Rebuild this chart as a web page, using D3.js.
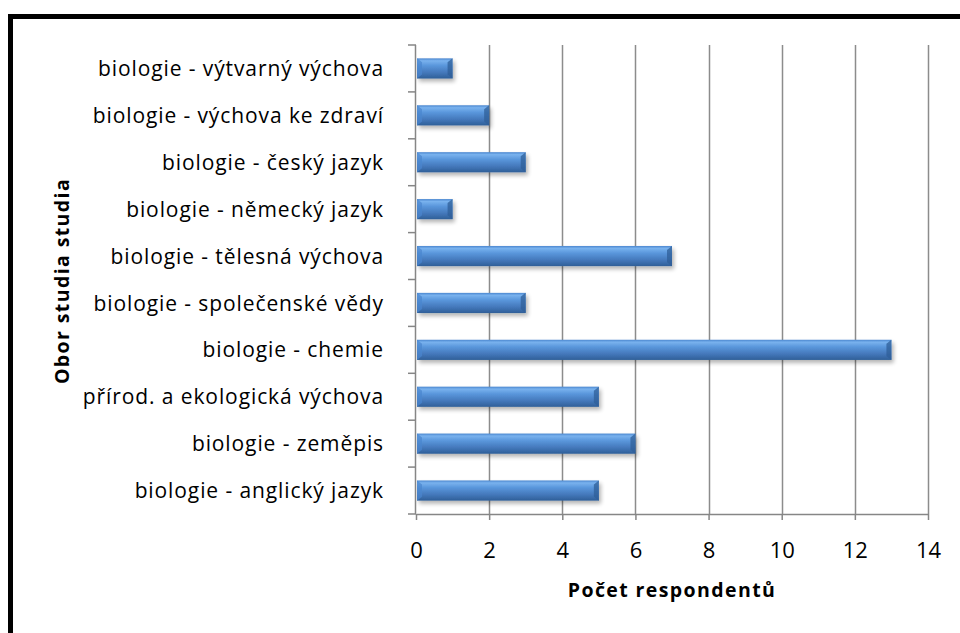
<!DOCTYPE html>
<html>
<head>
<meta charset="utf-8">
<script src="https://cdn.jsdelivr.net/npm/d3@7"></script>
<style>
  body { margin: 0; background: #fff; }
  svg { display: block; font-family: "Open Sans", "Noto Sans", sans-serif; }
</style>
</head>
<body>
<svg id="chart" width="960" height="633"></svg>
<script>
"use strict";

// categories listed bottom to top as in the picture
var categories = [
  "biologie - anglický jazyk",
  "biologie - zeměpis",
  "přírod. a ekologická výchova",
  "biologie - chemie",
  "biologie - společenské vědy",
  "biologie - tělesná výchova",
  "biologie - německý jazyk",
  "biologie - český jazyk",
  "biologie - výchova ke zdraví",
  "biologie - výtvarný výchova"
];
var counts = [5, 6, 5, 13, 3, 7, 1, 3, 2, 1];
var xTicks = [0, 2, 4, 6, 8, 10, 12, 14];
var xTitle = "Počet respondentů";
var yTitle = "Obor studia studia";

var svg = d3.select("#chart");

var plotLeft = 416, plotRight = 928, plotTop = 45, plotBottom = 514;

var x = d3.scaleLinear().domain([0, 14]).range([plotLeft, plotRight]);
var y = d3.scaleBand()
  .domain(categories.slice().reverse())
  .range([plotTop, plotBottom])
  .paddingInner(0.57)
  .paddingOuter(0.285);

var defs = svg.append("defs");
var grad = defs.append("linearGradient")
  .attr("id", "barGrad")
  .attr("x1", 0).attr("y1", 0).attr("x2", 0).attr("y2", 1);
grad.append("stop").attr("offset", "0%").attr("stop-color", "#4a86cf");
grad.append("stop").attr("offset", "12%").attr("stop-color", "#79b2ee");
grad.append("stop").attr("offset", "35%").attr("stop-color", "#5a97dc");
grad.append("stop").attr("offset", "70%").attr("stop-color", "#4478bb");
grad.append("stop").attr("offset", "100%").attr("stop-color", "#2f5f98");

var shadow = defs.append("filter").attr("id", "shadow")
  .attr("x", "-10%").attr("y", "-30%").attr("width", "130%").attr("height", "200%");
shadow.append("feGaussianBlur").attr("in", "SourceAlpha").attr("stdDeviation", 2.2);
shadow.append("feOffset").attr("dx", 2).attr("dy", 3).attr("result", "blur");
shadow.append("feComponentTransfer").append("feFuncA").attr("type", "linear").attr("slope", 0.3);
var merge = shadow.append("feMerge");
merge.append("feMergeNode");
merge.append("feMergeNode").attr("in", "SourceGraphic");

// outer frame
svg.append("rect")
  .attr("x", 10.5).attr("y", 16.5)
  .attr("width", 980).attr("height", 640)
  .attr("fill", "none")
  .attr("stroke", "#000")
  .attr("stroke-width", 5);

// gridlines
svg.append("g").selectAll("line").data(xTicks.slice(1))
  .enter().append("line")
  .attr("x1", function(d) { return Math.round(x(d)) + 0.5; })
  .attr("x2", function(d) { return Math.round(x(d)) + 0.5; })
  .attr("y1", plotTop).attr("y2", plotBottom)
  .attr("stroke", "#8c8c8c")
  .attr("stroke-width", 1.5);

// bars
var bars = svg.append("g").selectAll("g.bar")
  .data(categories.map(function(c, i) { return { cat: c, val: counts[i] }; }))
  .enter().append("g")
  .attr("class", "bar")
  .attr("filter", "url(#shadow)");

bars.append("rect")
  .attr("x", x(0) + 1)
  .attr("y", function(d) { return y(d.cat); })
  .attr("width", function(d) { return x(d.val) - x(0) - 1; })
  .attr("height", y.bandwidth())
  .attr("fill", "url(#barGrad)");

// bevel at the right end
bars.append("path")
  .attr("d", function(d) {
    var x1 = x(d.val), y0 = y(d.cat), h = y.bandwidth();
    return "M" + (x1 - 5) + "," + (y0 + 4) + "L" + x1 + "," + y0 +
      "L" + x1 + "," + (y0 + h) + "L" + (x1 - 5) + "," + (y0 + h - 4) + "Z";
  })
  .attr("fill", "#2f5f98")
  .attr("opacity", 0.75);

// bevel at the left end
bars.append("path")
  .attr("d", function(d) {
    var x0 = x(0) + 1, y0 = y(d.cat), h = y.bandwidth();
    return "M" + x0 + "," + y0 + "L" + (x0 + 5) + "," + (y0 + 4) +
      "L" + (x0 + 5) + "," + (y0 + h - 4) + "L" + x0 + "," + (y0 + h) + "Z";
  })
  .attr("fill", "#4a86cf")
  .attr("opacity", 0.7);

// y axis line and ticks at band edges
var yAxis = svg.append("g").attr("stroke", "#868686").attr("stroke-width", 1.5);
yAxis.append("line")
  .attr("x1", plotLeft - 0.5).attr("x2", plotLeft - 0.5)
  .attr("y1", plotTop).attr("y2", plotBottom);
var step = (plotBottom - plotTop) / categories.length;
yAxis.selectAll("line.tick").data(d3.range(categories.length + 1))
  .enter().append("line")
  .attr("class", "tick")
  .attr("x1", plotLeft - 8).attr("x2", plotLeft)
  .attr("y1", function(i) { return plotTop + i * step; })
  .attr("y2", function(i) { return plotTop + i * step; });

// x axis
var xAxis = svg.append("g")
  .attr("transform", "translate(0," + plotBottom + ")")
  .call(d3.axisBottom(x).tickValues(xTicks).tickSize(6).tickSizeOuter(0));
xAxis.select(".domain").attr("stroke", "#868686").attr("stroke-width", 1.5);
xAxis.selectAll(".tick line").attr("stroke", "#868686").attr("stroke-width", 1.5);
xAxis.selectAll(".tick text")
  .attr("fill", "#000")
  .attr("y", 44)
  .attr("dy", null)
  .attr("font-size", 22)
  .attr("font-family", "\"Open Sans\", sans-serif");

// category labels
svg.append("g").selectAll("text").data(categories)
  .enter().append("text")
  .attr("x", 384)
  .attr("y", function(d) { return y(d) + y.bandwidth() / 2; })
  .attr("dy", "0.36em")
  .attr("text-anchor", "end")
  .attr("font-size", 21)
  .attr("letter-spacing", 0.9)
  .attr("fill", "#000")
  .text(function(d) { return d; });

// axis titles
svg.append("text")
  .attr("x", (plotLeft + plotRight) / 2)
  .attr("y", 597)
  .attr("text-anchor", "middle")
  .attr("font-size", 19.5)
  .attr("font-weight", "bold")
  .attr("letter-spacing", 1.4)
  .text(xTitle);

svg.append("text")
  .attr("transform", "translate(69,281) rotate(-90)")
  .attr("text-anchor", "middle")
  .attr("font-size", 19.5)
  .attr("font-weight", "bold")
  .attr("letter-spacing", 1.4)
  .text(yTitle);
</script>
</body>
</html>
